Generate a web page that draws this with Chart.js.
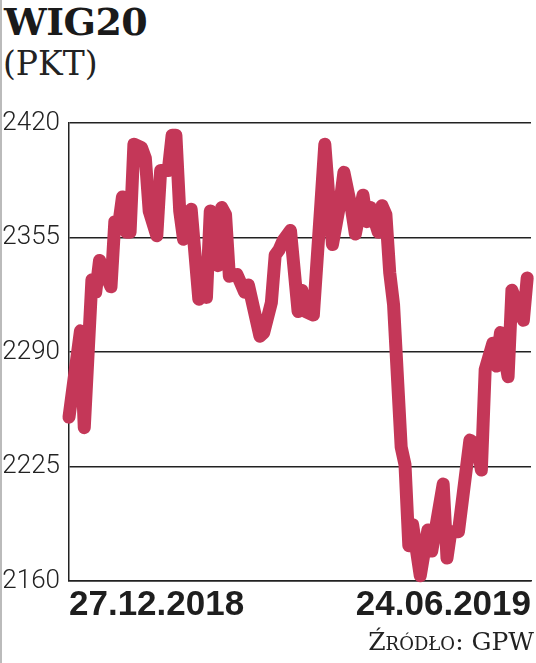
<!DOCTYPE html>
<html>
<head>
<meta charset="utf-8">
<script src="https://cdn.jsdelivr.net/npm/chart.js@4/dist/chart.umd.min.js"></script>
<style>
  html, body { margin: 0; padding: 0; background: #fff; }
  body { width: 536px; height: 663px; position: relative; overflow: hidden; border-left: 2px solid #bbb; box-sizing: border-box; }
  #wrap { position: absolute; left: -2px; top: 0; width: 536px; height: 663px; }
  .title { position: absolute; left: 2px; top: -1px; font-family: 'DejaVu Serif', serif; font-weight: bold; font-size: 38px; color: #1a1a1a; letter-spacing: -0.5px; }
  .unit { position: absolute; left: 1px; top: 44px; font-family: 'DejaVu Serif', serif; font-size: 33px; color: #222; }
  .source { position: absolute; right: 2px; top: 627px; font-family: 'DejaVu Serif', serif; font-size: 25px; color: #222; font-variant: small-caps; }
</style>
</head>
<body>
<div class="title">WIG20</div>
<div class="unit">(PKT)</div>
<div id="wrap"><canvas id="wigChart"></canvas></div>
<div class="source">Źródło: GPW</div>
<script>
// Trading session index (0 = 27.12.2018) and closing level
const sessionDay = [0, 3, 4, 6, 7, 8, 11, 12, 13, 14, 15, 16, 17, 19, 20, 21, 23, 24, 26, 27,
  28, 29, 30, 32, 34, 35, 36, 37, 39, 40, 41, 42, 44, 46, 47, 50, 51, 53, 54, 55,
  56, 58, 60, 61, 62, 64, 66, 67, 69, 71, 72, 74, 75, 77, 78, 79, 81, 82, 83, 84,
  85, 87, 88, 89, 90, 92, 94, 95, 98, 99, 100, 102, 105, 107, 108, 109, 111, 112, 113, 115,
  116, 119, 120];
const wigValues = [2253, 2302, 2247, 2331, 2324, 2342, 2327, 2364, 2362, 2378, 2358, 2358, 2408, 2406, 2400, 2370, 2356, 2393, 2393, 2413,
  2413, 2370, 2354, 2371, 2320, 2339, 2321, 2370, 2339, 2372, 2368, 2333, 2334, 2324, 2328, 2299, 2301, 2318, 2345, 2348,
  2353, 2359, 2313, 2325, 2313, 2311, 2375, 2408, 2351, 2375, 2392, 2371, 2357, 2379, 2364, 2372, 2358, 2373, 2368, 2335,
  2317, 2236, 2226, 2180, 2192, 2163, 2189, 2177, 2215, 2173, 2188, 2188, 2240, 2237, 2223, 2280, 2295, 2282, 2301, 2276,
  2325, 2308, 2332];

const dateLabels = ['27.12.2018', '24.06.2019'];
const yTicks = [2160, 2225, 2290, 2355, 2420];
const lastDay = 121;

const points = sessionDay.map((d, i) => ({ x: d, y: wigValues[i] }));

new Chart(document.getElementById('wigChart'), {
    type: 'line',
    data: {
        datasets: [{
            data: points,
            borderColor: 'rgb(196, 55, 88)',
            borderWidth: 13,
            borderJoinStyle: 'round',
            borderCapStyle: 'round',
            pointRadius: 0,
            tension: 0,
            fill: false,
            clip: false
        }]
    },
    options: {
        responsive: true,
        maintainAspectRatio: false,
        animation: false,
        layout: { padding: { top: 123, right: 5, bottom: 42, left: 0 } },
        plugins: { legend: { display: false }, tooltip: { enabled: false } },
        scales: {
            x: {
                type: 'linear',
                min: 0,
                max: lastDay,
                afterBuildTicks: scale => { scale.ticks = [{ value: 0 }, { value: lastDay }]; },
                afterFit: scale => { scale.height = 40; },
                grid: { display: false, drawTicks: false },
                border: { display: true, color: '#222', width: 1.5 },
                ticks: {
                    align: 'inner',
                    maxRotation: 0,
                    padding: 3,
                    color: '#1e1e1e',
                    font: { family: "'Liberation Sans Narrow', sans-serif", size: 35, weight: 'bold' },
                    callback: (v, i) => dateLabels[i]
                }
            },
            y: {
                min: 2160,
                max: 2420,
                afterBuildTicks: scale => { scale.ticks = yTicks.map(v => ({ value: v })); },
                afterFit: scale => { scale.width = 69; },
                grid: { color: '#222', lineWidth: 1.5, drawTicks: false },
                border: { display: true, color: '#222', width: 1.5 },
                ticks: {
                    padding: 9,
                    color: '#222',
                    font: { family: "Roboto, sans-serif", size: 26, weight: 300 },
                    callback: v => String(v)
                }
            }
        }
    }
});
</script>
</body>
</html>
